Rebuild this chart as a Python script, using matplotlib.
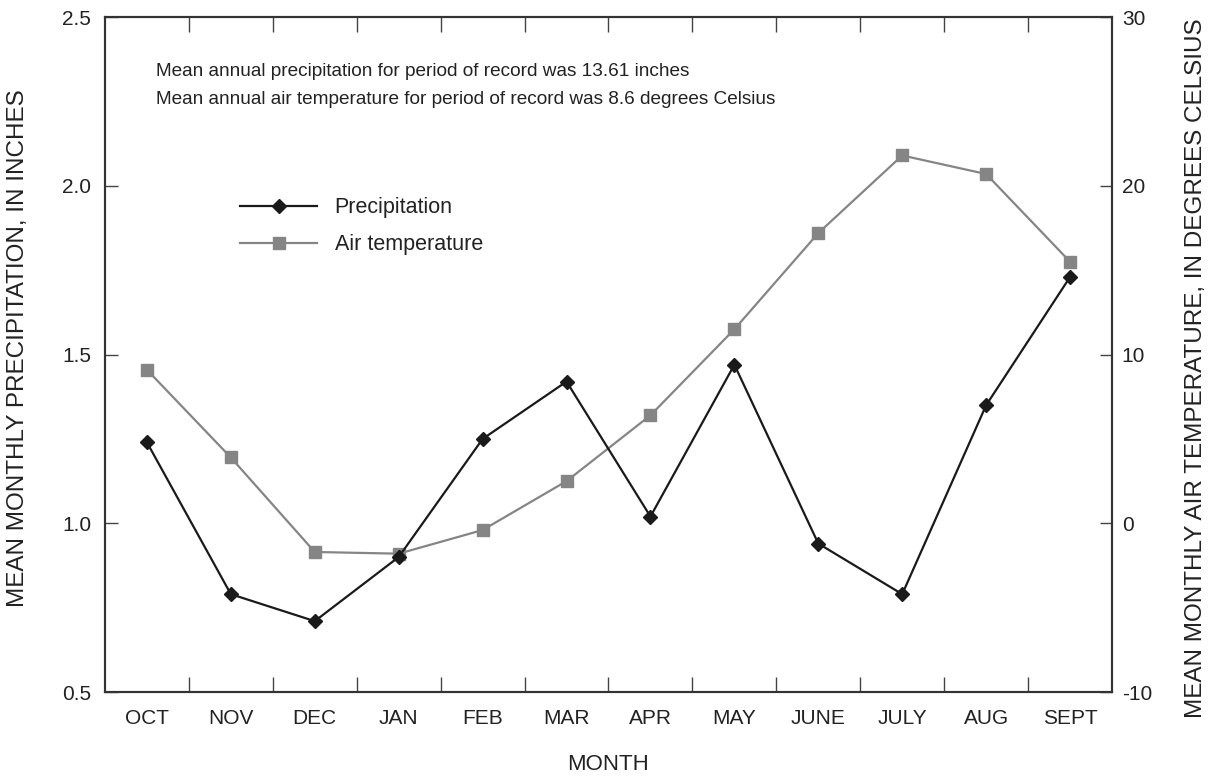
import matplotlib
matplotlib.use("Agg")
import matplotlib.pyplot as plt
import numpy as np

plt.rcParams['font.family'] = ['Liberation Sans', 'DejaVu Sans']
plt.rcParams['axes.unicode_minus'] = False

months = ["OCT", "NOV", "DEC", "JAN", "FEB", "MAR", "APR", "MAY",
          "JUNE", "JULY", "AUG", "SEPT"]
precip = [1.24, 0.79, 0.71, 0.90, 1.25, 1.42, 1.02, 1.47, 0.94, 0.79, 1.35, 1.73]
temp = [9.1, 3.9, -1.7, -1.8, -0.4, 2.5, 6.4, 11.5, 17.2, 21.8, 20.7, 15.5]

txt_color = "#222222"
x = np.arange(len(months))

fig = plt.figure(figsize=(12.09, 7.78), dpi=100)
ax = fig.add_axes([0.0868, 0.1105, 0.833, 0.8675])
ax2 = ax.twinx()

l1, = ax.plot(x, precip, color="#1a1a1a", linewidth=1.6, marker="D",
              markersize=7, label="Precipitation")
l2, = ax2.plot(x, temp, color="#858585", linewidth=1.6, marker="s",
               markersize=8, label="Air temperature")

# precipitation on top of temperature
ax.set_zorder(ax2.get_zorder() + 1)
ax.patch.set_visible(False)

ax.set_xlim(-0.5, len(months) - 0.5)
ax.set_ylim(0.5, 2.5)
ax2.set_ylim(-10, 30)

ax.set_yticks([0.5, 1.0, 1.5, 2.0, 2.5])
ax.set_yticklabels(["0.5", "1.0", "1.5", "2.0", "2.5"])
ax2.set_yticks([-10, 0, 10, 20, 30])
ax2.set_yticklabels(["-10", "0", "10", "20", "30"])

# ticks between months, labels at month centres
ax.set_xticks(np.arange(0.5, len(months) - 1, 1.0))
ax.set_xticklabels([])
ax.set_xticks(x, minor=True)
ax.set_xticklabels(months, minor=True)
ax.tick_params(axis="x", which="major", direction="in", length=11, width=1,
               top=True, color="#444444")
ax.tick_params(axis="x", which="minor", length=0, pad=12, labelsize=15,
               labelcolor=txt_color)
ax.tick_params(axis="y", direction="in", length=9, width=1, pad=10,
               labelsize=15, labelcolor=txt_color, color="#444444")
ax2.tick_params(axis="y", direction="in", length=9, width=1, pad=7,
                labelsize=15, labelcolor=txt_color, color="#444444")

for a in (ax, ax2):
    for s in a.spines.values():
        s.set_linewidth(1.5)
        s.set_color("#333333")

ax.set_xlabel("MONTH", fontsize=16, color=txt_color, va="center")
ax.xaxis.set_label_coords(0.5, -0.108)
ax.set_ylabel("MEAN MONTHLY PRECIPITATION, IN INCHES", fontsize=17.5,
              color=txt_color, va="center")
ax.yaxis.set_label_coords(-0.0864, 0.51)
ax2.set_ylabel("MEAN MONTHLY AIR TEMPERATURE, IN DEGREES CELSIUS",
               fontsize=17.5, color=txt_color, va="center")
ax2.yaxis.set_label_coords(1.083, 0.48)

ax.text(0.051, 0.92, "Mean annual precipitation for period of record was 13.61 inches",
        transform=ax.transAxes, fontsize=13.7, color=txt_color, va="center")
ax.text(0.051, 0.878, "Mean annual air temperature for period of record was 8.6 degrees Celsius",
        transform=ax.transAxes, fontsize=13.7, color=txt_color, va="center")

ax.legend([l1, l2], ["Precipitation", "Air temperature"], loc="upper left",
          bbox_to_anchor=(0.134, 0.733), frameon=False, fontsize=15.5,
          handlelength=3.6, handletextpad=0.8, labelspacing=0.75,
          borderpad=0, borderaxespad=0, labelcolor=txt_color)

fig.savefig("out.png", dpi=100)
